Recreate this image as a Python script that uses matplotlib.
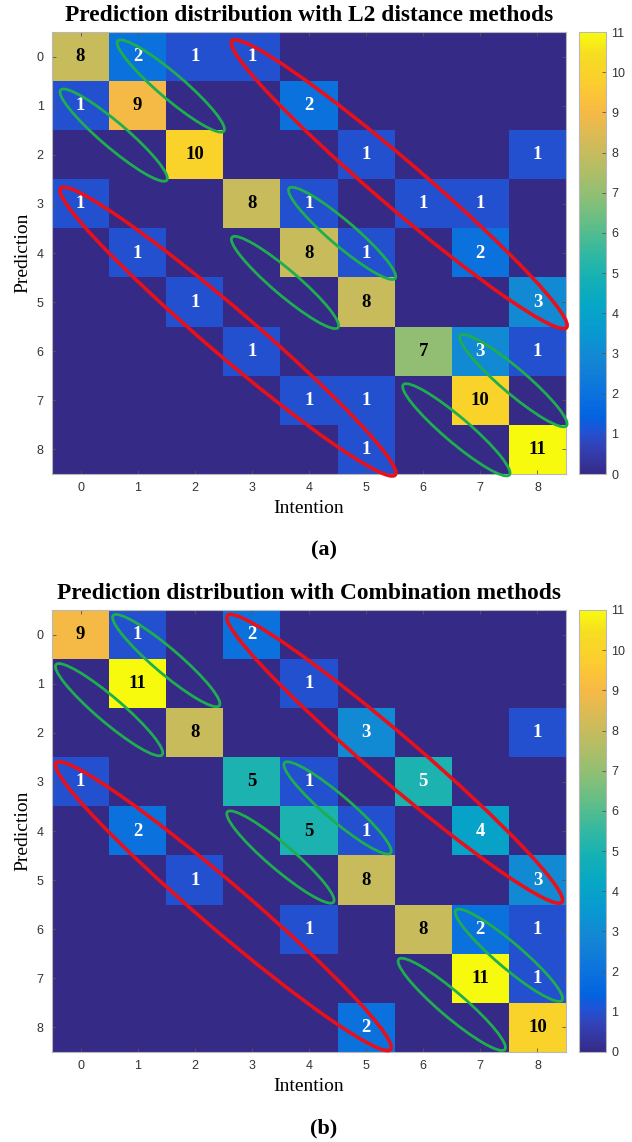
import numpy as np
import matplotlib
matplotlib.use('Agg')
import matplotlib.pyplot as plt
from matplotlib import colors as mcolors
from matplotlib.patches import Ellipse

# ======================
# data: rows = prediction, columns = intention
# ======================
classes = list(range(9))
cbar_ticks = list(range(12))

l2_counts = np.array([
    [8, 2, 1, 1, 0, 0, 0, 0, 0],
    [1, 9, 0, 0, 2, 0, 0, 0, 0],
    [0, 0, 10, 0, 0, 1, 0, 0, 1],
    [1, 0, 0, 8, 1, 0, 1, 1, 0],
    [0, 1, 0, 0, 8, 1, 0, 2, 0],
    [0, 0, 1, 0, 0, 8, 0, 0, 3],
    [0, 0, 0, 1, 0, 0, 7, 3, 1],
    [0, 0, 0, 0, 1, 1, 0, 10, 0],
    [0, 0, 0, 0, 0, 1, 0, 0, 11],
])

comb_counts = np.array([
    [9, 1, 0, 2, 0, 0, 0, 0, 0],
    [0, 11, 0, 0, 1, 0, 0, 0, 0],
    [0, 0, 8, 0, 0, 3, 0, 0, 1],
    [1, 0, 0, 5, 1, 0, 5, 0, 0],
    [0, 2, 0, 0, 5, 1, 0, 4, 0],
    [0, 0, 1, 0, 0, 8, 0, 0, 3],
    [0, 0, 0, 0, 1, 0, 8, 2, 1],
    [0, 0, 0, 0, 0, 0, 0, 11, 1],
    [0, 0, 0, 0, 0, 2, 0, 0, 10],
])

titles = ['Prediction distribution with L2 distance methods',
          'Prediction distribution with Combination methods']
tags = ['(a)', '(b)']

# highlighted diagonal bands: (first cell), (last cell) as (row, col)
green_bands = [((0, 1), (1, 2)), ((1, 0), (2, 1)), ((3, 4), (4, 5)),
               ((4, 3), (5, 4)), ((6, 7), (7, 8)), ((7, 6), (8, 7))]
red_bands = [((0, 3), (5, 8)), ((3, 0), (8, 5))]

# ======================
# parula-like colormap (sampled from the MATLAB table)
# ======================
parula_pts = [
    (0, (0.2081, 0.1663, 0.5292)),
    (4, (0.1959, 0.2645, 0.7279)),
    (6, (0.1253, 0.3242, 0.8303)),
    (8, (0.0117, 0.3875, 0.8820)),
    (12, (0.0498, 0.4586, 0.8641)),
    (16, (0.0793, 0.5200, 0.8312)),
    (20, (0.0343, 0.5966, 0.8199)),
    (24, (0.0228, 0.6535, 0.7768)),
    (28, (0.0843, 0.6928, 0.7062)),
    (32, (0.2178, 0.7250, 0.6193)),
    (36, (0.3953, 0.7459, 0.5244)),
    (40, (0.5709, 0.7485, 0.4494)),
    (44, (0.7184, 0.7411, 0.3905)),
    (48, (0.8507, 0.7299, 0.3360)),
    (52, (0.9739, 0.7314, 0.2666)),
    (56, (0.9880, 0.8066, 0.1794)),
    (60, (0.9626, 0.8705, 0.1309)),
    (63, (0.9763, 0.9831, 0.0538)),
]
parula = mcolors.LinearSegmentedColormap.from_list(
    'parula', [(i / 63, c) for i, c in parula_pts])

SERIF = 'Liberation Serif'
SANS = 'Liberation Sans'
EDGE = '#b8b8b8'

W, H = 632, 1142
fig = plt.figure(figsize=(W / 100, H / 100), dpi=100)


def px_rect(left, top, width, height):
    return [left / W, 1 - (top + height) / H, width / W, height / H]


def band_ellipse(ax, start, end, color, minor, lw, shift):
    (r0, c0), (r1, c1) = start, end
    cx = (c0 + c1) / 2 + shift[0]
    cy = (r0 + r1) / 2 + shift[1]
    length = np.hypot(c1 - c0, r1 - r0) + 1.2
    ax.add_patch(Ellipse((cx, cy), length, minor, angle=45, fill=False,
                         edgecolor=color, lw=lw, zorder=5, clip_on=False))


panels = [
    (l2_counts, 32, (0.08, 0.1)),
    (comb_counts, 610, (0.0, 0.03)),
]

for k, (counts, top, shift) in enumerate(panels):
    ax = fig.add_axes(px_rect(52, top, 514, 442))
    cax = fig.add_axes(px_rect(579, top, 27, 442))

    im = ax.imshow(counts, cmap=parula, vmin=0, vmax=11, aspect='auto',
                   interpolation='nearest')

    for i in range(counts.shape[0]):
        for j in range(counts.shape[1]):
            if counts[i, j] == 0:
                continue
            ax.text(j, i, str(counts[i, j]), ha='center', va='center',
                    fontsize=13.5, fontweight='bold', family=SERIF,
                    color='black' if i == j else 'white')

    for s, e in green_bands:
        band_ellipse(ax, s, e, '#1fae4f', 0.48, 2.0, shift)
    for s, e in red_bands:
        band_ellipse(ax, s, e, '#e8101a', 0.88, 2.6, shift)

    ax.set_xticks(classes)
    ax.set_yticks(classes)
    ax.set_xticklabels([str(c) for c in classes], family=SANS)
    ax.set_yticklabels([str(c) for c in classes], family=SANS)
    ax.tick_params(direction='in', length=3, width=0.6, color='#555555',
                   labelsize=9, labelcolor='#333333', pad=6,
                   top=True, right=True)
    for sp in ax.spines.values():
        sp.set_color(EDGE)
        sp.set_linewidth(0.8)

    ax.set_xlabel('Intention', fontsize=14, family=SERIF, labelpad=4)
    ax.set_ylabel('Prediction', fontsize=14, family=SERIF, labelpad=4)
    ax.set_title(titles[k], fontsize=16.8, fontweight='bold', family=SERIF,
                 pad=8)

    cb = fig.colorbar(im, cax=cax, ticks=cbar_ticks)
    cb.outline.set_edgecolor(EDGE)
    cb.outline.set_linewidth(0.8)
    cax.tick_params(direction='in', length=3, width=0.6, color='#555555',
                    labelsize=9, labelcolor='#333333', pad=4)
    for lab in cax.get_yticklabels():
        lab.set_family(SANS)

    fig.text(324 / W, 1 - (top + 518) / H, tags[k], ha='center', va='center',
             fontsize=16, fontweight='bold', family=SERIF)

fig.savefig('out.png', dpi=100)
